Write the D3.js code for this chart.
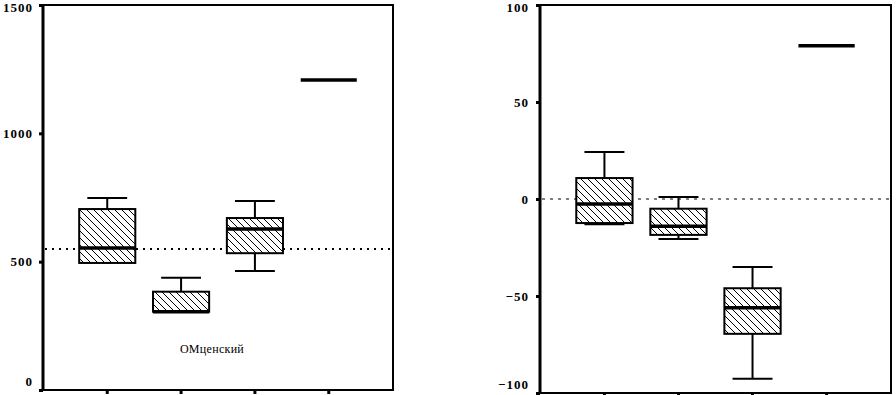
<!DOCTYPE html>
<html>
<head>
<meta charset="utf-8">
<script src="https://cdn.jsdelivr.net/npm/d3@7"></script>
<style>
  body { margin: 0; background: #fff; }
  .frame { fill: none; stroke: #000; stroke-width: 2; shape-rendering: crispEdges; }
</style>
</head>
<body>
<div id="chart"></div>
<script>
// groups (no labels under the x ticks)
const categories = ["1", "2", "3", "4"];

// left panel
const leftMin    = [495, 305, 464, 1208];
const leftQ1     = [495, 305, 533, 1208];
const leftMedian = [553, 305, 627, 1208];
const leftQ3     = [705, 383, 670, 1208];
const leftMax    = [748, 437, 736, 1208];
const leftRef = 549;
const leftTicks = [0, 500, 1000, 1500];
const leftNote = "ОМценский";

// right panel
const rightMin    = [-13, -20.6, -92.6, 79];
const rightQ1     = [-12.4, -18.5, -69.5, 79];
const rightMedian = [-2.6, -14, -56, 79];
const rightQ3     = [10.8, -5, -46, 79];
const rightMax    = [24.2, 1, -35, 79];
const rightRef = 0;
const rightTicks = [-100, -50, 0, 50, 100];

const serif = "'Liberation Serif', 'DejaVu Serif', 'Times New Roman', serif";

const svg = d3.select("#chart").append("svg")
    .attr("width", 896)
    .attr("height", 395);

// hatch fill
svg.append("defs").append("pattern")
    .attr("id", "hatch")
    .attr("patternUnits", "userSpaceOnUse")
    .attr("width", 7).attr("height", 7)
    .call(p => {
        p.append("rect").attr("width", 7).attr("height", 7).attr("fill", "#fff");
        p.append("path")
            .attr("d", "M0,0L7,7M-1,6L1,8M6,-1L8,1")
            .attr("stroke", "#000").attr("stroke-width", 1);
    });

function drawPanel(opt) {
    let g = svg.append("g").attr("transform", `translate(${opt.left},${opt.top})`);
    let w = opt.width, h = opt.height;

    let x = d3.scaleBand().domain(categories).range([0, w])
        .paddingInner(0.24).paddingOuter(0.49);
    let y = d3.scaleLinear().domain(opt.domain).range([h, 0]);

    // reference line
    g.append("line")
        .attr("x1", 2).attr("x2", w)
        .attr("y1", y(opt.ref)).attr("y2", y(opt.ref))
        .attr("stroke", "#000")
        .attr("stroke-width", opt.dotted ? 2 : 1)
        .attr("stroke-dasharray", opt.dotted ? "2,5" : "3,5");

    let boxes = categories.map((c, i) => ({
        c: c, min: opt.min[i], q1: opt.q1[i], med: opt.median[i], q3: opt.q3[i], max: opt.max[i]
    }));

    let bw = x.bandwidth();
    let cap = bw * 0.71;

    boxes.forEach(d => {
        let cx = x(d.c) + bw / 2;
        let bg = g.append("g");
        // whiskers
        if (d.max > d.q3) {
            bg.append("line").attr("x1", cx).attr("x2", cx).attr("y1", y(d.max)).attr("y2", y(d.q3))
                .attr("stroke", "#000").attr("stroke-width", 2);
            bg.append("line").attr("x1", cx - cap / 2).attr("x2", cx + cap / 2).attr("y1", y(d.max)).attr("y2", y(d.max))
                .attr("stroke", "#000").attr("stroke-width", 2);
        }
        if (d.min < d.q1) {
            bg.append("line").attr("x1", cx).attr("x2", cx).attr("y1", y(d.q1)).attr("y2", y(d.min))
                .attr("stroke", "#000").attr("stroke-width", 2);
            bg.append("line").attr("x1", cx - cap / 2).attr("x2", cx + cap / 2).attr("y1", y(d.min)).attr("y2", y(d.min))
                .attr("stroke", "#000").attr("stroke-width", 2);
        }
        // box
        if (d.q3 > d.q1) {
            bg.append("rect")
                .attr("x", x(d.c)).attr("width", bw)
                .attr("y", y(d.q3)).attr("height", y(d.q1) - y(d.q3))
                .attr("fill", "url(#hatch)")
                .attr("stroke", "#000").attr("stroke-width", 2);
        }
        // median
        bg.append("line")
            .attr("x1", x(d.c)).attr("x2", x(d.c) + bw)
            .attr("y1", y(d.med)).attr("y2", y(d.med))
            .attr("stroke", "#000").attr("stroke-width", 3.5);
    });

    // y axis
    let yAxis = g.append("g")
        .call(d3.axisLeft(y).tickValues(opt.ticks).tickFormat(d3.format("d"))
            .tickSize(4).tickPadding(opt.pad));
    yAxis.select(".domain").remove();
    yAxis.selectAll(".tick line").attr("stroke-width", 3);
    yAxis.selectAll(".tick text")
        .attr("font-family", serif)
        .attr("font-weight", "bold")
        .attr("font-size", 13)
        .attr("letter-spacing", 1);
    yAxis.selectAll(".tick text").filter(d => d === opt.domain[0]).attr("dy", "-0.35em");
    yAxis.selectAll(".tick text").filter(d => d === opt.domain[1]).attr("dy", "0.5em");

    // x axis ticks
    let xAxis = g.append("g")
        .attr("transform", `translate(0,${h})`)
        .call(d3.axisBottom(x).tickSize(4).tickFormat(""));
    xAxis.select(".domain").remove();
    xAxis.selectAll(".tick line").attr("stroke-width", 3);

    // frame
    g.append("rect").attr("class", "frame").attr("width", w).attr("height", h);
    g.append("line").attr("y1", 0).attr("y2", h + 1)
        .attr("stroke", "#000").attr("stroke-width", 3);

    return {g: g, x: x, y: y};
}

let leftP = drawPanel({
    left: 43, top: 5, width: 350, height: 385,
    domain: [0, 1500], ticks: leftTicks, pad: 6,
    min: leftMin, q1: leftQ1, median: leftMedian, q3: leftQ3, max: leftMax,
    ref: leftRef, dotted: true
});

leftP.g.append("text")
    .attr("x", 169).attr("y", leftP.y(155))
    .attr("text-anchor", "middle")
    .attr("dominant-baseline", "middle")
    .attr("font-family", serif)
    .attr("font-size", 12)
    .attr("letter-spacing", 0.3)
    .text(leftNote);

drawPanel({
    left: 540, top: 5, width: 351, height: 388,
    domain: [-100, 100], ticks: rightTicks, pad: 7,
    min: rightMin, q1: rightQ1, median: rightMedian, q3: rightQ3, max: rightMax,
    ref: rightRef, dotted: false
});
</script>
</body>
</html>
